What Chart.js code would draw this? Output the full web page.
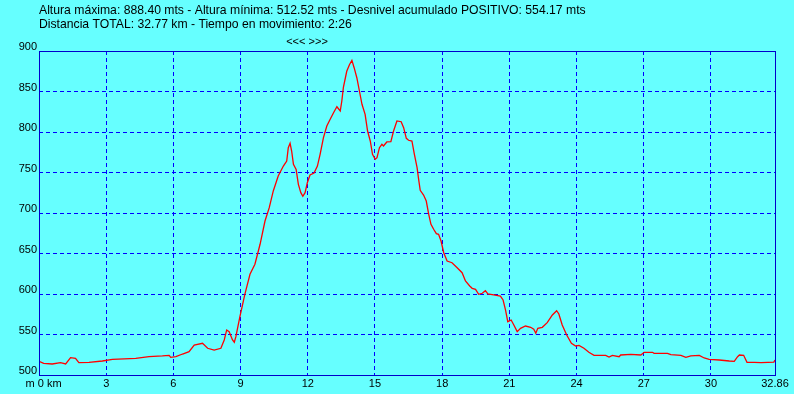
<!DOCTYPE html>
<html>
<head>
<meta charset="utf-8">
<script src="https://cdn.jsdelivr.net/npm/chart.js@4"></script>
<style>
	html, body { margin: 0; padding: 0; background: #66ffff; }
	#wrap { width: 794px; height: 394px; }
</style>
</head>
<body>
<div id="wrap"><canvas id="myChart" width="794" height="394"></canvas></div>
<script>
// profile data (km, metres)
var dist = [0.00, 0.21, 0.59, 0.96, 1.19, 1.41, 1.63, 1.78, 2.23, 2.83, 3.28, 4.32, 4.91, 5.51, 5.81, 5.88, 6.11, 6.41, 6.70, 6.93,
	7.30, 7.53, 7.82, 8.12, 8.27, 8.38, 8.49, 8.64, 8.72, 8.79, 8.97, 9.19, 9.42, 9.64, 9.87, 10.09, 10.28, 10.46, 10.68, 10.91,
	11.06, 11.13, 11.21, 11.28, 11.36, 11.48, 11.58, 11.69, 11.78, 11.88, 11.98, 12.10, 12.28, 12.43, 12.55, 12.70, 12.85, 13.00, 13.15, 13.30,
	13.45, 13.52, 13.59, 13.74, 13.86, 13.97, 14.07, 14.19, 14.31, 14.42, 14.56, 14.67, 14.79, 14.89, 15.01, 15.09, 15.20, 15.31, 15.38, 15.53,
	15.71, 15.83, 15.98, 16.17, 16.28, 16.40, 16.50, 16.65, 16.76, 16.88, 16.95, 17.02, 17.17, 17.29, 17.40, 17.50, 17.62, 17.74, 17.84, 17.95,
	18.07, 18.22, 18.44, 18.67, 18.89, 19.04, 19.23, 19.34, 19.49, 19.63, 19.79, 19.93, 20.04, 20.30, 20.60, 20.72, 20.83, 20.93, 21.08, 21.20,
	21.35, 21.50, 21.72, 21.95, 22.09, 22.18, 22.27, 22.47, 22.69, 22.92, 23.11, 23.21, 23.36, 23.56, 23.77, 23.96, 24.11, 24.33, 24.55, 24.78,
	25.30, 25.45, 25.60, 25.90, 25.97, 26.42, 26.87, 27.02, 27.39, 27.46, 28.06, 28.21, 28.66, 28.88, 29.10, 29.48, 29.70, 29.92, 30.37, 30.82,
	31.04, 31.19, 31.27, 31.46, 31.61, 31.94, 32.24, 32.54, 32.81, 32.86];
var elev = [517.0, 514.4, 513.6, 515.2, 513.6, 521.4, 520.6, 515.2, 515.6, 517.3, 519.3, 520.6, 522.6, 523.5, 524.3, 521.8, 522.6, 525.9, 528.8, 537.0,
	539.1, 533.0, 530.8, 533.0, 543.2, 555.6, 553.5, 543.2, 540.4, 547.3, 572.0, 599.6, 624.3, 636.7, 661.4, 690.1, 706.6, 727.2, 745.7, 758.0,
	764.2, 780.6, 786.0, 776.5, 760.1, 753.9, 735.4, 725.1, 720.6, 725.1, 737.4, 746.9, 749.4, 758.0, 772.5, 793.0, 807.4, 815.7, 823.8, 831.2,
	825.9, 838.3, 855.0, 875.0, 883.0, 888.4, 879.4, 867.0, 850.0, 834.2, 821.8, 801.2, 788.9, 772.5, 766.3, 768.3, 780.6, 784.8, 782.7, 787.7,
	788.1, 801.2, 813.6, 812.7, 805.3, 792.2, 789.8, 788.9, 772.5, 756.0, 741.6, 728.0, 722.2, 714.8, 698.4, 686.0, 679.9, 674.5, 673.7, 665.4,
	651.0, 640.7, 638.6, 632.5, 626.3, 616.1, 609.9, 607.0, 605.8, 599.6, 600.9, 604.1, 600.0, 598.8, 597.5, 592.6, 580.2, 565.8, 567.9, 561.7,
	553.5, 557.6, 560.5, 558.9, 556.4, 551.5, 557.6, 558.9, 564.6, 574.1, 579.4, 575.3, 561.7, 549.4, 539.1, 535.8, 536.6, 533.0, 528.0, 524.3,
	524.3, 522.2, 524.3, 522.6, 524.7, 525.5, 524.7, 528.0, 528.0, 526.8, 526.8, 525.1, 524.3, 521.8, 523.5, 524.3, 521.0, 519.4, 518.5, 517.3,
	516.9, 522.6, 524.7, 524.3, 515.6, 515.6, 515.2, 515.6, 516.0, 518.5];

var xTicks = [0, 3, 6, 9, 12, 15, 18, 21, 24, 27, 30, 32.86];
var yTicks = [500, 550, 600, 650, 700, 750, 800, 850, 900];
var headLines = [
	"Altura máxima: 888.40 mts - Altura mínima: 512.52 mts - Desnivel acumulado POSITIVO: 554.17 mts",
	"Distancia TOTAL: 32.77 km - Tiempo en movimiento: 2:26"
];

var FONT = "'Liberation Sans', Arial, sans-serif";

var points = dist.map(function (d, i) {
	return { x: d, y: elev[i] };
});

// frame + header text
var decor = {
	id: "decor",
	afterDraw: function (chart) {
		var ctx = chart.ctx;
		var a = chart.chartArea;
		ctx.save();
		ctx.strokeStyle = "#0000cc";
		ctx.lineWidth = 1;
		ctx.strokeRect(Math.round(a.left) + 0.5, Math.round(a.top) + 0.5, Math.round(a.right - a.left), Math.round(a.bottom - a.top));
		ctx.fillStyle = "#000";
		ctx.font = "12.2px " + FONT;
		ctx.textAlign = "left";
		ctx.textBaseline = "alphabetic";
		ctx.fillText(headLines[0], 39, 14);
		ctx.fillText(headLines[1], 39, 28);
		ctx.font = "11px " + FONT;
		ctx.textAlign = "center";
		ctx.textBaseline = "middle";
		ctx.fillText("<<< >>>", 307, 42);
		ctx.restore();
	}
};

const ctx = document.getElementById("myChart").getContext("2d");
const myChart = new Chart(ctx, {
	type: "line",
	data: {
		datasets: [
			{
				data: points,
				borderColor: "#ff0000",
				borderWidth: 1.3,
				pointRadius: 0,
				tension: 0,
				fill: false,
			},
		],
	},
	options: {
		responsive: false,
		animation: false,
		events: [],
		layout: {
			padding: { top: 51, right: 19, left: 0, bottom: 0 },
		},
		plugins: {
			legend: { display: false },
			tooltip: { enabled: false },
		},
		scales: {
			x: {
				type: "linear",
				min: 0,
				max: 32.86,
				afterBuildTicks: function (scale) {
					scale.ticks = xTicks.map(function (v) {
						return { value: v };
					});
				},
				afterFit: function (scale) {
					scale.height = 19;
				},
				ticks: {
					autoSkip: false,
					maxRotation: 0,
					padding: 2,
					color: "#000",
					font: { family: FONT, size: 11 },
					callback: function (v) {
						if (v === 0) return "   m 0 km";
						return String(v);
					},
				},
				grid: {
					color: "#0000ff",
					lineWidth: 1,
					drawTicks: false,
				},
				border: { display: false, dash: [4, 3] },
			},
			y: {
				min: 500,
				max: 900,
				afterBuildTicks: function (scale) {
					scale.ticks = yTicks.map(function (v) {
						return { value: v };
					});
				},
				afterFit: function (scale) {
					scale.width = 39;
				},
				ticks: {
					padding: 2,
					labelOffset: -4,
					color: "#000",
					font: { family: FONT, size: 11 },
				},
				grid: {
					color: "#0000ff",
					lineWidth: 1,
					drawTicks: false,
				},
				border: { display: false, dash: [4, 3] },
			},
		},
	},
	plugins: [decor],
});
</script>
</body>
</html>
